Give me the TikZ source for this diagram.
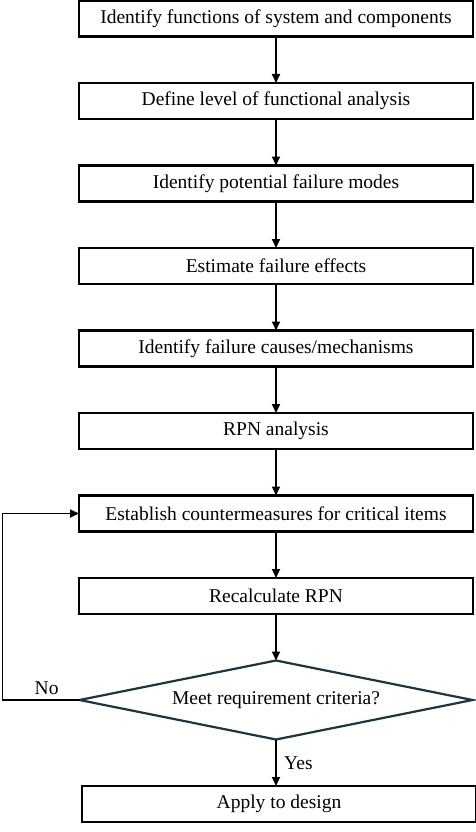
\documentclass[tikz,border=0pt]{standalone}
\usepackage{fontspec}
\setmainfont{Liberation Serif}
\usetikzlibrary{positioning,arrows.meta,shapes.geometric}
\definecolor{slate}{HTML}{1F3440}

\begin{document}
\begin{tikzpicture}[x=1pt,y=1pt,node distance=46.5pt,
	stepbox/.style={draw,line width=2.2pt,minimum width=394pt,minimum height=36pt,
		inner sep=0pt,outer sep=0pt,font=\fontsize{19.5}{22}\selectfont},
	decision/.style={diamond,draw=slate,line width=2.2pt,aspect=5,minimum width=393pt,
		minimum height=79pt,inner sep=0pt,outer sep=0pt,font=\fontsize{19.5}{22}\selectfont},
	flow/.style={-{Triangle[length=9pt,width=8pt]},line width=1.8pt}]
\useasboundingbox (0,0) rectangle (476,-832);

\node[stepbox] (func) at (276,-18.5) {Identify functions of system and components};
\node[stepbox,below=of func] (level) {Define level of functional analysis};
\node[stepbox,below=of level] (modes) {Identify potential failure modes};
\node[stepbox,below=of modes] (effects) {Estimate failure effects};
\node[stepbox,below=of effects] (causes) {Identify failure causes/mechanisms};
\node[stepbox,below=of causes] (rpn) {RPN analysis};
\node[stepbox,below=of rpn] (counter) {Establish countermeasures for critical items};
\node[stepbox,below=of counter] (recalc) {Recalculate RPN};
\node[decision,below=of recalc] (meet) {Meet requirement criteria?};
\node[stepbox,below=of meet,xshift=3pt] (apply) {Apply to design};

\draw[flow] (func) -- (level);
\draw[flow] (level) -- (modes);
\draw[flow] (modes) -- (effects);
\draw[flow] (effects) -- (causes);
\draw[flow] (causes) -- (rpn);
\draw[flow] (rpn) -- (counter);
\draw[flow] (counter) -- (recalc);
\draw[flow] (recalc) -- (meet);
\draw[flow] (meet.south) -- (meet.south |- apply.north)
	node[midway,right=4pt,font=\fontsize{19.5}{22}\selectfont] {Yes};

% loop back
\coordinate[left=77pt of meet.west] (back);
\draw[flow] (meet.west) -- (back) |- (counter.west)
	node[pos=0,above right=1pt and 28pt,font=\fontsize{19.5}{22}\selectfont] {No};

\end{tikzpicture}
\end{document}
